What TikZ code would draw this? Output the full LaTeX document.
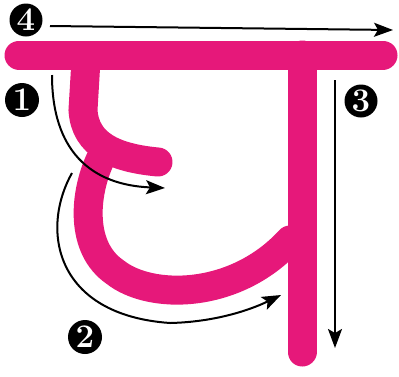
\documentclass[tikz,border=0pt]{standalone}
\usetikzlibrary{arrows.meta}
\definecolor{inkpink}{RGB}{230,24,122}
\begin{document}
\begin{tikzpicture}[x=1pt,y=-1pt,
  pinkstroke/.style={draw=inkpink,line width=29pt,line cap=round},
  guide/.style={draw=black,line width=2pt,-{Stealth[length=19pt,width=14pt,inset=4pt]}},
  numcircle/.style={circle,fill=black,text=white,inner sep=0pt,minimum size=#1,font=\fontsize{33}{33}\selectfont\bfseries}]
\useasboundingbox (0,0) rectangle (399,376);
% letter strokes
\draw[pinkstroke] (19,55) -- (383,55);
\draw[pinkstroke] (302,55) -- (302,352);
\draw[pinkstroke] (86,60) -- (83,110) .. controls (85,145) and (115,158) .. (158,162);
\draw[pinkstroke] (100,160) .. controls (84,195) and (80,248) .. (115,272) .. controls (150,300) and (235,300) .. (290,240);
% guide arrows
\coordinate (a4s) at (50,26); \coordinate (a4e) at (393,30);
\coordinate (a3s) at (335,80); \coordinate (a3e) at (335,348);
\coordinate (a1s) at (52,75); \coordinate (a1e) at (165,188);
\coordinate (a2s) at (72,173); \coordinate (a2m) at (170,323); \coordinate (a2e) at (281,295);
\draw[guide] (a4s) -- (a4e);
\draw[guide] (a3s) -- (a3e);
\draw[guide] (a1s) .. controls (52,150) and (90,185) .. (a1e);
\draw[guide] (a2s) .. controls (40,230) and (55,315) .. (a2m) .. controls (215,322) and (250,310) .. (a2e);
% numbers
\node[numcircle=33pt] (n4) at (26,20) {4};
\node[numcircle=34pt] (n1) at (22,100) {1};
\node[numcircle=33pt] (n3) at (361,101) {3};
\node[numcircle=34pt] (n2) at (85,337) {2};
\end{tikzpicture}
\end{document}
